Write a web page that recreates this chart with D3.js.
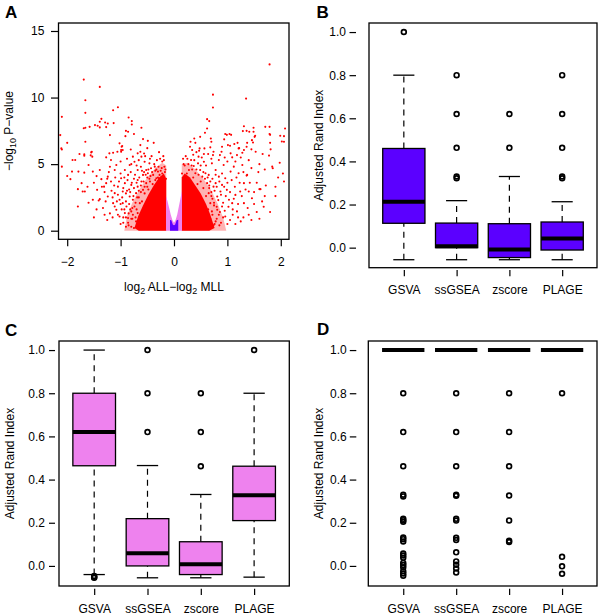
<!DOCTYPE html>
<html><head><meta charset="utf-8">
<script src="https://cdn.jsdelivr.net/npm/d3@7"></script>
<style>body{margin:0;background:#fff}svg{display:block}</style>
</head><body><svg id="c" width="600" height="615"></svg>
<script>
// ---------- data ----------
const methods = ["GSVA","ssGSEA","zscore","PLAGE"];
// box stats: [lower whisker, Q1, median, Q3, upper whisker]
const statsB = [[-0.056,0.113,0.213,0.46,0.80],[-0.056,0.0,0.006,0.114,0.218],[-0.056,-0.046,-0.009,0.111,0.33],[-0.056,-0.011,0.043,0.119,0.213]];
const outliersB = [[1.0],[0.8,0.62,0.463,0.33,0.322],[0.62,0.463],[0.8,0.62,0.463,0.33,0.322]];
const statsC = [[-0.04,0.464,0.621,0.80,1.0],[-0.055,0.0,0.059,0.219,0.465],[-0.055,-0.04,0.008,0.112,0.331],[-0.052,0.21,0.327,0.462,0.80]];
const outliersC = [[-0.047,-0.052,-0.055],[1.0,0.8,0.62],[0.8,0.62,0.462],[1.0]];
const statsD = [[1,1,1,1,1],[1,1,1,1,1],[1,1,1,1,1],[1,1,1,1,1]];
const outliersD = [
 [0.8,0.62,0.462,0.33,0.322,0.218,0.212,0.205,0.132,0.124,0.113,0.057,0.048,0.038,0.014,0.004,-0.006,-0.025,-0.035,-0.045],
 [0.8,0.62,0.462,0.33,0.325,0.218,0.21,0.13,0.12,0.063,0.021,0.006,-0.012,-0.03],
 [0.8,0.62,0.462,0.326,0.211,0.117,0.111],
 [0.8,0.042,-0.002,-0.036]];
const boxTicks = [0,0.2,0.4,0.6,0.8,1.0];
const volcanoXTicks = [-2,-1,0,1,2];
const volcanoYTicks = [0,5,10,15];
// volcano: outlines of the dense clouds and individual points [log2 fold change, -log10 p]
const leftShoulder = [[-0.145,0],[-0.145,4.9],[-0.22,5.1],[-0.35,4.7],[-0.5,4.0],[-0.65,3.1],[-0.78,2.1],[-0.88,1.1],[-0.93,0]];
const rightShoulder = [[0.145,0],[0.145,5.0],[0.25,5.1],[0.4,4.6],[0.55,3.9],[0.7,3.0],[0.82,2.0],[0.92,1.0],[0.98,0]];
const leftCore = [[-0.145,0],[-0.145,3.9],[-0.19,4.3],[-0.28,4.0],[-0.38,3.4],[-0.48,2.7],[-0.58,1.9],[-0.67,1.1],[-0.74,0.2],[-0.66,0]];
const rightCore = [[0.145,0],[0.145,4.0],[0.2,4.3],[0.3,4.0],[0.4,3.4],[0.5,2.8],[0.6,2.0],[0.68,1.2],[0.76,0.2],[0.66,0]];
const pinkBand = [[-0.15,0],[-0.15,2.6],[-0.12,2.2],[-0.09,1.7],[-0.06,1.2],[-0.03,0.8],[0,0.6],[0.03,0.8],[0.06,1.2],[0.09,1.8],[0.12,2.4],[0.15,3.0],[0.15,0]];
const purpleCore = [[-0.075,0],[-0.075,0.8],[-0.05,0.78],[-0.02,0.45],[0.0,0.4],[0.02,0.45],[0.05,0.78],[0.08,0.82],[0.08,0]];
const volcanoRed = [
 [-1.69,11.35],[-1.39,10.8],[-1.66,9.8],[-2.1,8.55],[-1.66,8.85],[-1.14,9.05],[-1.05,9.27],[-0.85,8.5],[-0.79,8.23],[-0.79,7.98],
 [-1.36,8.4],[-1.39,8.18],[-1.29,8.13],[-1.24,8.05],[-1.13,8.08],[-1.48,7.93],[-1.43,7.88],[-1.39,7.76],[-1.58,7.8],[-1.66,7.73],
 [-1.69,7.7],[-1.27,7.78],[-0.61,7.73],[-0.86,7.43],[-0.75,7.26],[-1.2,7.18],[-0.58,6.88],[-0.49,6.75],[-0.91,7.1],[-2.13,7.18],
 [-2.0,6.6],[-1.66,6.68],[-2.1,6.1],[-1.02,6.56],[-0.97,6.36],[-0.96,6.06],[-0.81,6.1],[-0.63,6.43],[-0.63,5.93],[-0.56,5.8],
 [-1.54,5.93],[-1.77,5.76],[-1.68,5.73],[-1.14,5.86],[-1.06,5.93],[-0.99,6.06],[-0.9,7.5],[-0.98,6.3],[-2.11,6.18],[-1.56,5.66],
 [-2.1,4.81],[-2.0,4.11],[-1.9,5.31],[-1.85,5.31],[-1.68,5.63],[-1.55,5.88],[-1.53,5.56],[-1.6,4.94],[-1.79,4.44],[-1.68,4.36],
 [-1.52,4.44],[-1.39,4.56],[-1.91,4.44],[-1.94,3.87],[-1.73,3.57],[-1.8,3.12],[-1.71,2.94],[-1.52,2.32],[-1.8,1.82],[-1.44,3.07],
 [-1.31,3.31],[-1.27,3.57],[-1.18,3.69],[-1.36,3.87],[-1.24,4.06],[-1.11,4.56],[-1.08,4.94],[-1.18,5.31],[-1.27,5.51],[-1.21,5.81],
 [-0.99,5.93],[-1.39,2.37],[-1.24,2.57],[-1.14,2.07],[-1.02,2.32],[-1.11,2.82],[-0.96,2.94],[-1.05,3.31],[-0.92,3.57],[-0.99,3.94],
 [-0.86,4.19],[-0.92,4.56],[-0.83,4.94],[-0.74,5.18],[-0.77,5.56],[-0.68,5.81],[-0.61,5.56],[-0.55,5.18],[-0.46,5.06],[-0.36,4.81],
 [-0.3,4.44],[-0.49,4.31],[-0.68,4.56],[-0.68,3.81],[-0.8,3.44],[-0.83,2.57],[-0.89,1.82],[-0.8,1.45],[-1.08,1.57],[-0.71,0.7],
 [-1.02,1.07],[-0.92,1.32],[-0.86,0.95],[-0.77,1.2],[-0.74,1.82],[-0.77,2.32],[-0.71,2.82],[-0.68,3.31],[-0.61,3.69],[-0.58,4.19],
 [-0.52,4.56],[-0.43,4.69],[-0.39,4.19],[-0.33,3.94],[-0.24,3.69],[-0.27,4.19],[-0.52,3.57],[-0.58,3.07],[-0.64,2.07],[-0.68,1.32],
 [-0.64,0.45],[-0.58,0.32],[-0.96,2.07],[-1.11,1.82],[-1.41,2.27],[-1.67,2.94],[-1.2,1.3],[-0.95,0.6],[-0.85,0.4],[-0.9,2.8],
 [-0.84,3.1],[-0.75,3.9],[-0.7,4.9],[-0.62,4.8],[-0.56,4.4],[-0.5,4.0],[-0.45,3.7],[-0.4,3.5],[-0.35,4.5],[-0.28,3.9],
 [-0.25,4.5],[-0.2,4.0],[-0.18,4.8],[-0.22,5.2],[-0.15,3.9],[-0.17,4.4],[-0.32,5.3],[-0.42,5.6],[-0.28,5.9],[-0.5,6.2],
 [-0.38,6.6],[-0.2,5.6],[-1.0,0.5],[-0.9,0.3],[-0.8,0.9],[-0.95,1.0],[-1.3,1.2],[-1.25,0.8],[-1.5,1.0],[-0.75,0.2],
 [-0.72,1.0],[-0.7,1.6],[-0.66,2.5],[-0.62,2.9],[-0.55,3.3],[-0.48,3.1],[-0.44,4.1],[-0.35,3.8],[-0.3,4.0],[-0.22,4.3],
 [-1.35,3.3],[-1.3,2.9],[-1.25,3.9],[-1.22,4.4],[-1.17,3.0],[-1.15,2.5],[-1.12,3.4],[-1.1,4.0],[-1.07,2.2],[-1.05,2.7],
 [-1.03,3.7],[-1.0,4.3],[-0.98,1.6],[-0.97,2.5],[-0.95,3.2],[-0.93,4.0],[-0.9,2.2],[-0.88,3.0],[-0.87,3.8],[-0.85,1.3],
 [-0.84,2.0],[-0.82,2.9],[-0.81,4.4],[-0.79,3.6],[-0.78,1.7],[-0.76,2.6],[-0.75,3.2],[-0.73,4.2],[-0.72,2.1],[-0.7,3.6],
 [-0.69,2.5],[-0.66,3.0],[-0.65,4.0],[-0.64,1.0],[-0.62,3.4],[-0.6,2.2],[-0.6,4.5],[-0.57,3.7],[-0.55,2.8],[-0.53,4.2],
 [-0.5,3.3],[-0.48,4.6],[-0.46,3.9],[-0.41,4.4],[-0.37,5.0],[-0.33,4.6],[-0.29,4.8],[-0.26,5.4],[-0.23,4.7],[-0.19,5.3],
 [-0.16,4.6],[-0.9,1.0],[-0.86,0.6],[-0.82,1.6],[-0.8,0.3],[-0.78,0.9],[-0.93,1.6],[-1.0,2.0],[-1.05,1.2],[-1.15,1.0],
 [-1.28,2.2],[-1.33,1.7],[-1.45,1.6],[-1.6,2.1],[-1.5,3.6],[-1.45,4.1],[-1.62,3.3],[-1.2,4.8],[-1.0,5.2],[-0.88,5.4],
 [-0.8,5.0],[-0.66,5.3],[-0.54,5.6],[-0.45,5.4],
 [1.79,12.49],[0.73,10.22],[1.35,9.92],[0.73,9.25],[0.62,8.38],[0.66,8.23],[1.31,7.85],[0.62,7.68],[1.49,7.73],[1.71,7.8],
 [1.79,7.8],[2.08,7.68],[1.41,7.43],[1.29,7.48],[1.49,7.43],[0.58,7.36],[0.96,7.26],[1.04,7.26],[1.07,7.2],[1.51,7.05],
 [1.79,7.26],[1.99,7.13],[2.06,7.1],[0.49,7.05],[0.69,6.93],[0.38,6.93],[0.94,6.86],[1.46,6.8],[1.48,6.63],[0.31,6.68],
 [0.4,6.6],[0.7,6.68],[1.37,6.6],[2.06,6.68],[1.8,6.6],[1.13,6.51],[1.01,6.43],[0.9,6.31],[0.57,6.18],[0.48,6.18],
 [0.68,6.26],[1.21,6.18],[1.31,6.06],[1.45,6.11],[1.81,6.11],[0.74,5.93],[0.89,5.93],[1.06,5.81],[1.53,5.93],[1.66,5.76],
 [0.34,6.06],[0.99,7.2],[1.36,7.5],[1.52,7.13],[1.8,7.2],[1.19,6.6],[2.02,6.7],[1.05,6.38],[1.22,6.2],[1.36,6.3],
 [1.78,5.64],[0.64,5.76],[0.73,5.68],[0.86,5.68],[1.09,5.51],[1.18,5.68],[1.28,5.86],[1.84,4.81],[2.06,3.69],[1.62,3.12],
 [1.46,2.44],[1.37,4.19],[1.28,4.94],[1.12,4.81],[1.06,4.44],[1.21,4.31],[0.93,4.94],[0.84,5.31],[0.71,5.06],[0.56,5.18],
 [0.45,5.06],[0.37,4.86],[1.31,3.57],[1.4,2.94],[1.24,2.94],[1.15,2.69],[1.09,2.07],[1.31,2.07],[1.18,1.45],[0.96,1.07],
 [1.03,2.32],[0.99,3.07],[0.9,3.44],[0.96,3.94],[0.84,4.06],[0.78,4.56],[0.65,4.19],[0.9,1.82],[0.84,1.2],[0.78,0.7],
 [0.71,0.32],[0.81,2.57],[0.74,3.31],[0.68,3.69],[0.59,4.31],[0.49,4.56],[0.28,4.56],[0.21,4.06],[0.32,5.31],[0.46,5.56],
 [0.56,5.76],[0.65,2.82],[0.68,2.07],[0.71,1.45],[0.65,0.82],[0.53,4.06],[0.62,3.57],[0.4,4.31],[0.28,3.81],[0.87,2.94],
 [0.81,1.57],[0.59,0.57],[0.78,3.57],[1.6,3.12],[1.85,4.69],[1.36,4.14],[1.7,2.6],[1.5,2.0],[1.2,1.0],[1.0,0.5],
 [1.55,1.4],[1.9,3.3],[1.4,1.2],[1.25,0.7],[0.88,0.6],[1.1,1.6],[1.68,1.8],[1.95,4.0],[0.2,4.9],[0.25,5.4],
 [0.15,4.3],[0.18,5.0],[0.42,5.9],[0.3,6.3],[0.72,2.4],[0.75,1.9],[0.7,2.9],[0.66,3.2],[0.58,3.9],[0.5,3.7],
 [0.44,3.5],[0.36,4.0],[0.24,4.3],[0.34,4.6],[0.46,4.2],[0.55,3.2],[0.6,2.6],[0.64,1.6],[0.68,0.9],[0.74,0.4],
 [0.6,4.9],[0.63,4.0],[0.66,3.4],[0.7,2.6],[0.72,3.9],[0.75,2.1],[0.76,3.0],[0.78,4.2],[0.8,1.8],[0.8,3.3],
 [0.83,2.3],[0.85,3.7],[0.86,1.4],[0.88,2.7],[0.9,4.3],[0.92,2.1],[0.94,3.3],[0.95,1.5],[0.97,2.6],[1.0,3.6],
 [1.02,1.8],[1.05,2.9],[1.08,3.8],[1.1,1.2],[1.12,2.4],[1.14,3.3],[1.17,4.0],[1.2,2.0],[1.23,3.6],[1.27,2.6],
 [1.3,4.4],[1.34,3.1],[1.38,1.7],[1.42,3.6],[1.45,4.7],[1.5,2.9],[1.55,3.6],[1.58,4.4],[1.65,2.2],[1.72,3.4],
 [1.8,1.4],[1.9,2.6],[0.55,4.4],[0.5,4.9],[0.42,4.6],[0.38,5.3],[0.33,4.9],[0.27,5.0],[0.22,5.6],[0.17,5.4],
 [0.36,5.7],[0.52,5.5],[0.47,6.0],[0.8,0.9],[0.76,0.5],[0.72,1.2],[0.85,0.4],[0.92,1.0],[1.05,0.8],[1.15,0.5],
 [1.3,1.0],[1.45,0.8],[1.6,0.9],[1.0,5.2],[1.15,5.2],[1.25,5.5],[0.95,5.5],[0.7,5.4],[1.4,5.3],[1.6,5.0],
 [1.7,4.6],[1.98,5.1],[2.04,4.3]
];

// ---------- drawing ----------
const FONT = "'Liberation Sans', Arial, Helvetica, sans-serif";
const svg = d3.select("#c").attr("font-family", FONT);
const defs = svg.append("defs");

function styleAxis(g){
  g.attr("font-size",12).attr("font-family",FONT);
  g.select(".domain").remove();
  g.selectAll(".tick line").attr("stroke","#000").attr("stroke-width",1.2);
  g.selectAll(".tick text").attr("fill","#000");
}
function frame(p){
  svg.append("rect").attr("x",p.l).attr("y",p.t).attr("width",p.r-p.l).attr("height",p.b-p.t)
    .attr("fill","none").attr("stroke","#000").attr("stroke-width",1.3);
}
function letter(t,x,y){
  svg.append("text").attr("x",x).attr("y",y).attr("font-size",17).attr("font-weight","bold").text(t);
}

// ----- Panel A: volcano -----
const pA = {l:58.5,r:289,t:23,b:239.3};
const xA = d3.scaleLinear().domain([-2.163,2.154]).range([pA.l,pA.r]);
const yA = d3.scaleLinear().domain([-0.646,15.6]).range([pA.b,pA.t]);
defs.append("clipPath").attr("id","clipA").append("rect")
  .attr("x",pA.l).attr("y",pA.t).attr("width",pA.r-pA.l).attr("height",pA.b-pA.t);
const gA = svg.append("g").attr("clip-path","url(#clipA)");
const lineA = d3.line().x(d=>xA(d[0])).y(d=>yA(d[1]));
gA.append("path").attr("d",lineA(leftShoulder)+"Z").attr("fill","#ff0000").attr("fill-opacity",0.3);
gA.append("path").attr("d",lineA(rightShoulder)+"Z").attr("fill","#ff0000").attr("fill-opacity",0.3);
gA.selectAll("circle").data(volcanoRed).join("circle")
  .attr("cx",d=>xA(d[0])).attr("cy",d=>yA(d[1])).attr("r",1.05).attr("fill","#ff0000");
gA.append("path").attr("d",lineA(leftCore)+"Z").attr("fill","#ff0000");
gA.append("path").attr("d",lineA(rightCore)+"Z").attr("fill","#ff0000");
gA.append("path").attr("d",lineA(pinkBand)+"Z").attr("fill","#ee82ee");
gA.append("path").attr("d",lineA(purpleCore)+"Z").attr("fill","#5b00ff");
frame(pA);
styleAxis(svg.append("g").attr("transform",`translate(${pA.l},0)`)
  .call(d3.axisLeft(yA).tickValues(volcanoYTicks).tickFormat(d3.format("d")).tickSize(7.5).tickPadding(6.7)));
styleAxis(svg.append("g").attr("transform",`translate(0,${pA.b})`)
  .call(d3.axisBottom(xA).tickValues(volcanoXTicks).tickFormat(d3.format("d")).tickSize(7).tickPadding(11)));
const ytA = svg.append("text").attr("transform",`translate(12.5,131) rotate(-90)`).attr("text-anchor","middle").attr("font-size",12);
ytA.append("tspan").text("\u2212log");
ytA.append("tspan").attr("font-size",9).attr("dy",3).text("10");
ytA.append("tspan").attr("dy",-3).text(" P\u2212value");
const xtA = svg.append("text").attr("x",174).attr("y",291).attr("text-anchor","middle").attr("font-size",12);
xtA.append("tspan").text("log");
xtA.append("tspan").attr("font-size",9).attr("dy",3).text("2");
xtA.append("tspan").attr("dy",-3).text(" ALL\u2212log");
xtA.append("tspan").attr("font-size",9).attr("dy",3).text("2");
xtA.append("tspan").attr("dy",-3).text(" MLL");
letter("A",5,18);

// ----- box panels -----
function boxPanel(p, stats, outs, fill, cfg){
  const x = d3.scaleLinear().domain([0.34,4.66]).range([p.l,p.r]);
  const y = d3.scaleLinear().domain([-0.093,1.042]).range([p.b,p.t]);
  const bw = (x(1.4)-x(0.6));
  const g = svg.append("g");
  stats.forEach((s,i)=>{
    const cx = x(i+1);
    [[s[0],s[1]],[s[3],s[4]]].forEach(([a,b])=>{
      if (a!==b) g.append("line").attr("x1",cx).attr("x2",cx).attr("y1",y(a)).attr("y2",y(b))
        .attr("stroke","#000").attr("stroke-width",1.2).attr("stroke-dasharray","6,5");
    });
    [s[0],s[4]].forEach(v=>{
      g.append("line").attr("x1",cx-bw/4).attr("x2",cx+bw/4).attr("y1",y(v)).attr("y2",y(v))
        .attr("stroke","#000").attr("stroke-width",1.3);
    });
    g.append("rect").attr("x",cx-bw/2).attr("width",bw).attr("y",y(s[3])).attr("height",Math.max(0,y(s[1])-y(s[3])))
      .attr("fill",fill).attr("stroke","#000").attr("stroke-width",1.3);
    g.append("line").attr("x1",cx-bw/2).attr("x2",cx+bw/2).attr("y1",y(s[2])).attr("y2",y(s[2]))
      .attr("stroke","#000").attr("stroke-width",4);
    g.selectAll(null).data(outs[i]).join("circle")
      .attr("cx",cx).attr("cy",v=>y(v)).attr("r",2.4).attr("fill","none").attr("stroke","#000").attr("stroke-width",1.7);
  });
  frame(p);
  styleAxis(svg.append("g").attr("transform",`translate(${p.l-cfg.yGap},0)`)
    .call(d3.axisLeft(y).tickValues(boxTicks).tickFormat(d3.format(".1f")).tickSize(cfg.yTick).tickPadding(cfg.yPad)));
  styleAxis(svg.append("g").attr("transform",`translate(0,${p.b+cfg.xGap})`)
    .call(d3.axisBottom(x).tickValues([1,2,3,4]).tickFormat(i=>methods[i-1]).tickSize(6.3).tickPadding(18-cfg.xGap-6.3)));
  svg.append("text").attr("transform",`translate(${cfg.titleX+4.2},${(p.t+p.b)/2}) rotate(-90)`)
    .attr("text-anchor","middle").attr("font-size",12).text("Adjusted Rand Index");
}

boxPanel({l:369,r:597,t:23,b:267.7}, statsB, outliersB, "#5b00ff", {yGap:13,yTick:6.5,yPad:3.5,xGap:2.3,titleX:319});
letter("B",316.5,18);
boxPanel({l:59,r:289.3,t:341,b:586}, statsC, outliersC, "#ee82ee", {yGap:4,yTick:6,yPad:4,xGap:2.7,titleX:10});
letter("C",5,336);
boxPanel({l:368.3,r:597,t:341,b:586}, statsD, outliersD, "#5b00ff", {yGap:12,yTick:6.5,yPad:3.1,xGap:2.7,titleX:319});
letter("D",317,335);
</script></body></html>
